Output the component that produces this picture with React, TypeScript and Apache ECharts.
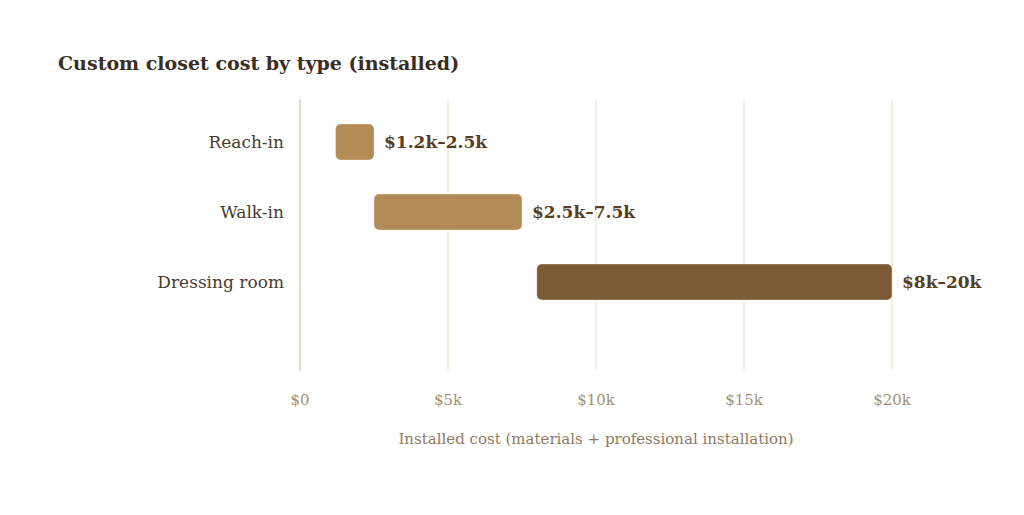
import React, { useEffect, useRef } from "react";
import * as echarts from "echarts";

const categories = ["Reach-in", "Walk-in", "Dressing room"];
const lowValues = [1200, 2500, 8000];
const highValues = [2500, 7500, 20000];
const rangeLabels = ["$1.2k\u20132.5k", "$2.5k\u20137.5k", "$8k\u201320k"];
const barColors = ["#b38b56", "#b38b56", "#7b5a35"];
const xTicks = [0, 5000, 10000, 15000, 20000];
const xTickLabels = ["$0", "$5k", "$10k", "$15k", "$20k"];

const FONT = "Georgia, 'DejaVu Serif', serif";

export default function App() {
  const ref = useRef<HTMLDivElement>(null);
  useEffect(() => {
    if (!ref.current) return;
    const chart = echarts.init(ref.current, undefined, { renderer: "svg" });
    const data = categories.map((c, i) => [i, lowValues[i], highValues[i]]);
    chart.setOption({
      animation: false,
      backgroundColor: "#ffffff",
      textStyle: { fontFamily: FONT },
      title: {
        text: "Custom closet cost by type (installed)",
        left: 45,
        top: 40,
        textStyle: { fontFamily: FONT, fontSize: 19, fontWeight: "bold", color: "#3b2d1f" },
      },
      grid: { left: 292, right: 124, top: 92, bottom: 137 },
      xAxis: {
        type: "value",
        min: 0,
        max: 20000,
        interval: 5000,
        axisLine: { show: false },
        axisTick: { show: false },
        splitLine: { show: true, lineStyle: { color: "#f0e8dc", width: 1.5 } },
        axisLabel: {
          margin: 22,
          fontFamily: FONT,
          fontSize: 15,
          color: "#a38f74",
          formatter: (v: number) => {
            const idx = xTicks.indexOf(v);
            return idx >= 0 ? xTickLabels[idx] : "";
          },
        },
        name: "Installed cost (materials + professional installation)",
        nameLocation: "middle",
        nameGap: 61,
        nameTextStyle: { fontFamily: FONT, fontSize: 15, color: "#8f7a60" },
      },
      yAxis: {
        type: "value",
        inverse: true,
        min: -0.6,
        max: 3.2571,
        interval: 0.2,
        axisLine: { show: true, lineStyle: { color: "#e3d7c8", width: 2 } },
        axisTick: { show: false },
        splitLine: { show: false },
        axisLabel: {
          margin: 16,
          fontFamily: FONT,
          fontSize: 17,
          color: "#4a3b2c",
          formatter: (v: number) => {
            const r = Math.round(v);
            if (Math.abs(v - r) < 1e-6 && r >= 0 && r < categories.length) return categories[r];
            return "";
          },
        },
      },
      series: [
        {
          type: "custom",
          clip: false,
          data,
          encode: { x: [1, 2], y: 0 },
          renderItem: (params: any, api: any) => {
            const idx = api.value(0);
            const start = api.coord([api.value(1), idx]);
            const end = api.coord([api.value(2), idx]);
            const h = 36;
            return {
              type: "group",
              children: [
                {
                  type: "rect",
                  shape: { x: start[0], y: start[1] - h / 2, width: end[0] - start[0], height: h, r: 5 },
                  style: { fill: barColors[idx], stroke: "rgba(255,255,255,0.35)", lineWidth: 1 },
                },
                {
                  type: "text",
                  x: end[0] + 10,
                  y: end[1],
                  style: {
                    text: rangeLabels[idx],
                    fontFamily: FONT,
                    fontSize: 17,
                    fontWeight: "bold",
                    fill: "#573d22",
                    verticalAlign: "middle",
                    align: "left",
                  },
                },
              ],
            };
          },
        },
      ],
    });
    return () => chart.dispose();
  }, []);
  return <div ref={ref} style={{ width: 1008, height: 499 }} />;
}
